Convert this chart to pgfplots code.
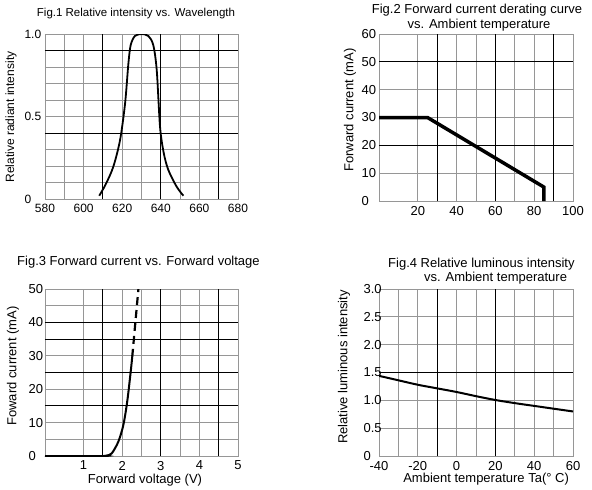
\documentclass[border=0pt]{standalone}
\usepackage{fontspec}
\setmainfont{Liberation Sans}
\usepackage{pgfplots}
\pgfplotsset{compat=1.18}
\definecolor{gridgray}{RGB}{150,150,150}
\pgfplotsset{
 chart/.style={
  scale only axis, anchor=south west,
  axis line style={gridgray, line width=0.9pt},
  grid=both,
  major grid style={gridgray, line width=0.9pt},
  minor grid style={gridgray, line width=0.9pt},
  major tick length=0pt, minor tick length=0pt,
  extra tick style={grid=major, major grid style={black, line width=0.9pt}, major tick length=0pt},
  extra x tick labels={}, extra y tick labels={},
  tick label style={font=\fontsize{13}{15}\selectfont},
  xticklabel style={yshift=-1.5pt},
  /pgf/number format/assume math mode=true,
  label style={font=\fontsize{13}{15}\selectfont},
 }
}
\begin{document}
\begin{tikzpicture}
\useasboundingbox (0pt,0pt) rectangle (592pt,-490pt);
% Fig.1
\begin{axis}[chart, at={(45pt,-199pt)}, width=193pt, height=165pt,
 xmin=580, xmax=680, ymin=0, ymax=1,
 tick label style={font=\fontsize{12}{14}\selectfont},
 xtick={580,600,...,680}, minor x tick num=1,
 ytick={0,0.5,1}, yticklabels={0,0.5,1.0}, minor y tick num=4,
 yticklabel style={anchor=west, xshift=-24pt},
 extra x ticks={610,640,670}, extra y ticks={0.4,0.9},
 ylabel={Relative radiant intensity},
 ylabel style={at={(axis description cs:-0.176,0.497)}, anchor=center, font=\fontsize{12}{14}\selectfont},
]
\addplot[black, line width=1.8pt, smooth] coordinates {
 (608.1,0.02) (611.5,0.09) (615.4,0.196) (618.9,0.358) (621.5,0.58) (623.2,0.82)
 (624.4,0.933) (626.6,0.988) (630.1,1.0) (633.5,0.988) (636.1,0.933) (637.9,0.78)
 (639.6,0.438) (641.5,0.28) (643.9,0.176) (648.2,0.075) (651.7,0.02)};
\end{axis}
% Fig.2
\begin{axis}[chart, at={(379pt,-201pt)}, width=194pt, height=167pt,
 xmin=0, xmax=100, ymin=0, ymax=60,
 xtick={20,40,...,100}, minor x tick num=1,
 ytick={0,10,...,60},
 yticklabel style={anchor=west, xshift=-21pt},
 extra x ticks={30,60,90}, extra y ticks={20,50},
 ylabel={Forward current (mA)},
 ylabel style={at={(axis description cs:-0.149,0.545)}, anchor=center},
]
\addplot[black, line width=3.5pt, line join=miter] coordinates {(0,30) (25,30) (85,5) (85,0)};
\end{axis}
% Fig.3
\begin{axis}[chart, at={(45pt,-456pt)}, width=193pt, height=167pt,
 xmin=0, xmax=5, ymin=0, ymax=50,
 xtick={1,...,5}, minor x tick num=1,
 ytick={0,10,...,50}, minor y tick num=1,
 yticklabel style={anchor=west, xshift=-20pt},
 extra x ticks={1.5,3,4.5}, extra y ticks={15,25,35,40},
 xlabel={Forward voltage (V)},
 xlabel style={at={(axis description cs:0.518,-0.144)}, anchor=center},
 ylabel={Foward current (mA)},
 ylabel style={at={(axis description cs:-0.166,0.539)}, anchor=center},
]
\addplot[black, line width=2pt, smooth] coordinates {
 (0,0) (1.5,0) (1.6,0.15) (1.73,0.8) (1.9,4.3) (2.03,9.3) (2.13,16.3) (2.22,25.2) (2.26,29.7)};
\addplot[black, line width=2.2pt, dash pattern=on 8pt off 5pt] coordinates {
 (2.26,29.7) (2.42,50)};
\end{axis}
% Fig.4
\begin{axis}[chart, at={(379pt,-456pt)}, width=194pt, height=167pt,
 xmin=-40, xmax=60, ymin=0, ymax=3,
 xtick={-40,-20,...,60}, minor x tick num=1,
 ytick={0,0.5,...,3}, yticklabels={0,0.5,1.0,1.5,2.0,2.5,3.0},
 yticklabel style={anchor=west, xshift=-19pt},
 extra x ticks={-10,20}, extra y ticks={1.5},
 xlabel={Ambient temperature Ta(° C)},
 xlabel style={at={(axis description cs:0.552,-0.138)}, anchor=center},
 ylabel={Relative luminous intensity},
 ylabel style={at={(axis description cs:-0.180,0.533)}, anchor=center},
]
\addplot[black, line width=2pt, smooth] coordinates {
 (-40,1.44) (-30,1.36) (-20,1.28) (-10,1.215) (0,1.15) (10,1.075) (20,1.006)
 (30,0.95) (40,0.9) (50,0.85) (60,0.80)};
\end{axis}
% titles
\node[anchor=base, font=\fontsize{11.5}{13}\selectfont] at (136pt,-16pt) {Fig.1 Relative intensity vs. Wavelength};
\node[anchor=base, font=\fontsize{13}{15}\selectfont] at (477pt,-13.5pt) {Fig.2 Forward current derating curve};
\node[anchor=base, font=\fontsize{13}{15}\selectfont] at (479pt,-28.5pt) {vs. Ambient temperature};
\node[anchor=base west, inner sep=0pt, font=\fontsize{13}{15}\selectfont] at (17pt,-265.5pt) {Fig.3 Forward current vs. Forward voltage};
\node[anchor=base west, inner sep=0pt, font=\fontsize{13}{15}\selectfont] at (388pt,-267.5pt) {Fig.4 Relative luminous intensity};
\node[anchor=base west, inner sep=0pt, font=\fontsize{13}{15}\selectfont] at (424pt,-281.5pt) {vs. Ambient temperature};
\end{tikzpicture}
\end{document}
